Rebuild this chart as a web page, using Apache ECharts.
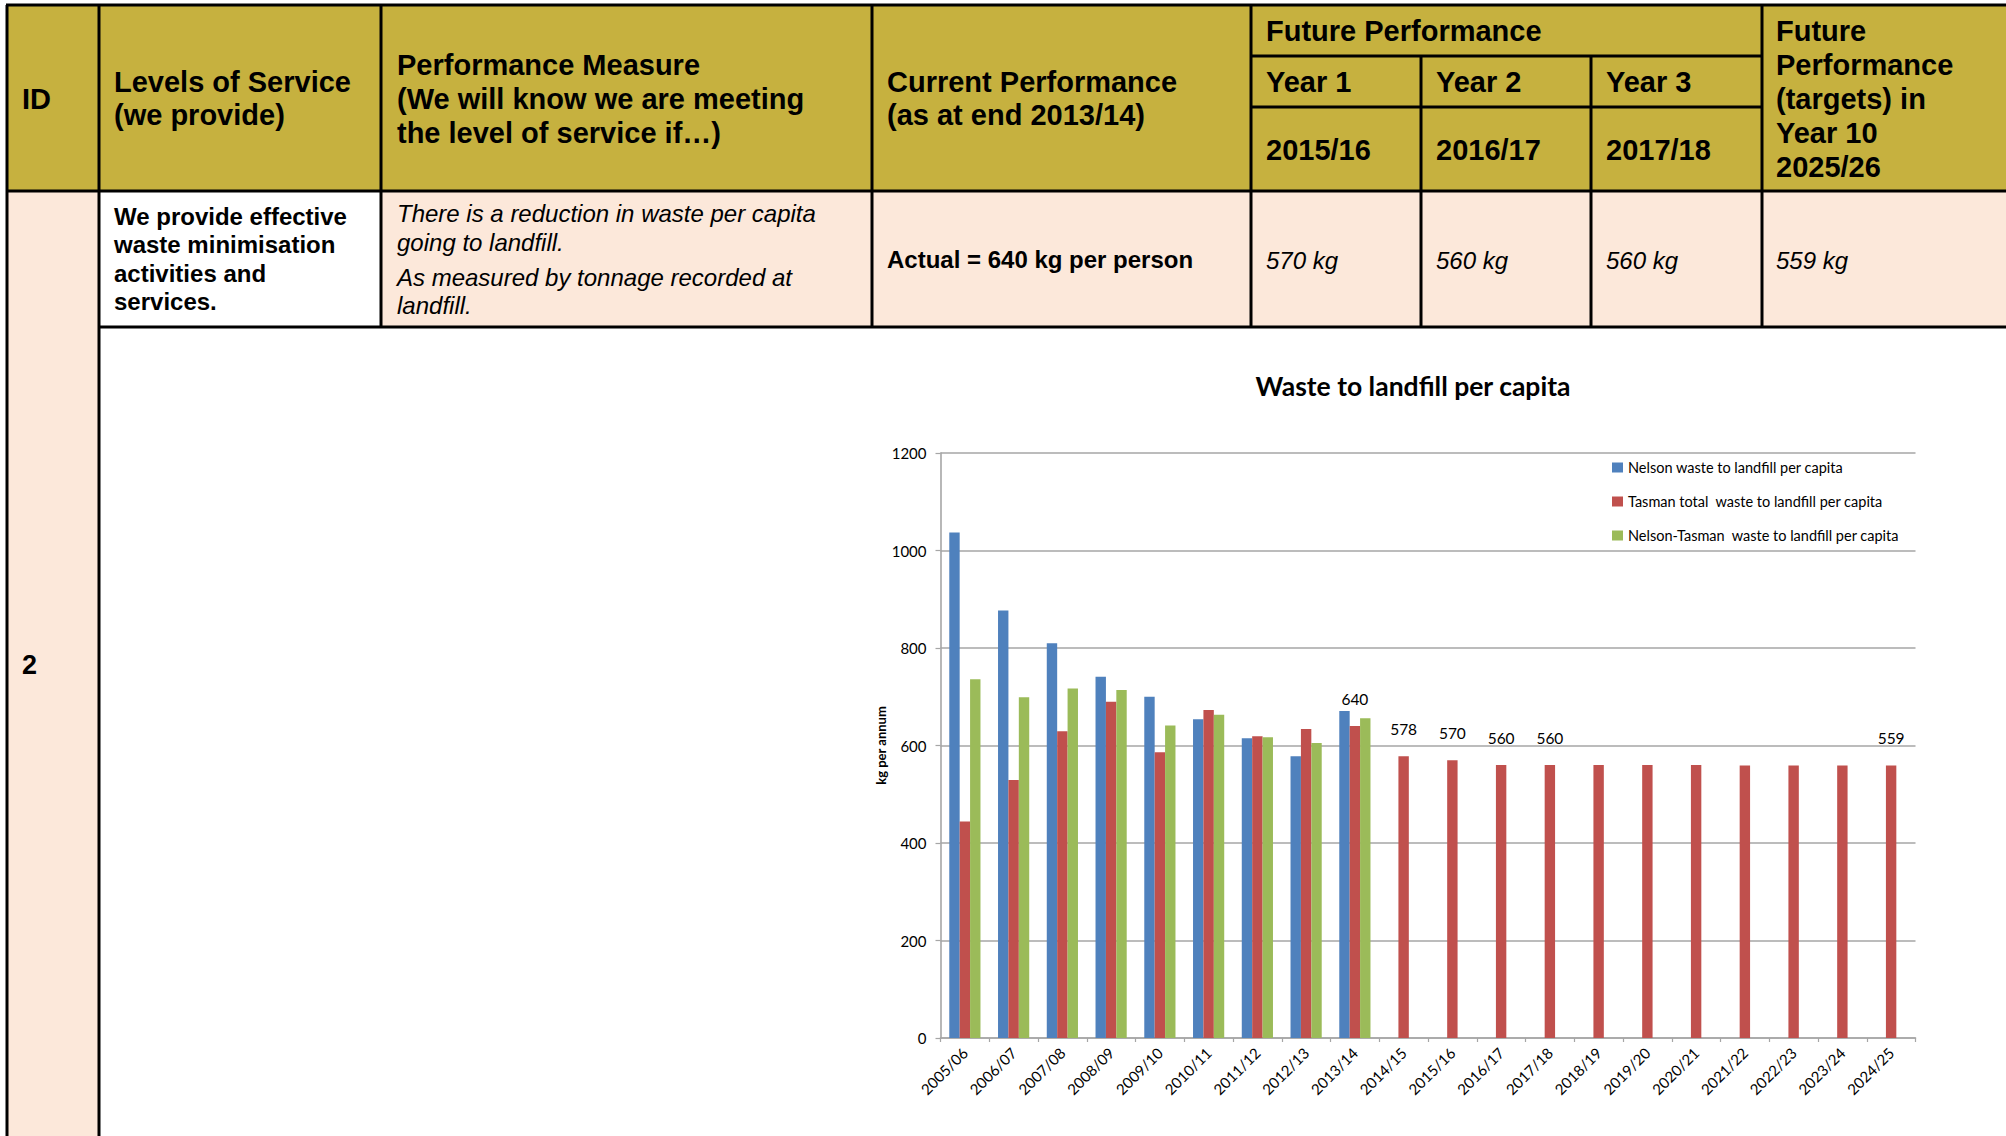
<!DOCTYPE html>
<html>
<head>
<meta charset="utf-8">
<title>Waste to landfill per capita</title>
<script src="https://cdn.jsdelivr.net/npm/echarts@6/dist/echarts.min.js"></script>
<style>
  html, body { margin: 0; padding: 0; background: #ffffff; }
  #chart { width: 2006px; height: 1136px; }
</style>
</head>
<body>
<div id="chart"></div>
<script>
// ---- chart data (kg per person per annum) ----
const categories = ['2005/06', '2006/07', '2007/08', '2008/09', '2009/10', '2010/11', '2011/12',
  '2012/13', '2013/14', '2014/15', '2015/16', '2016/17', '2017/18', '2018/19', '2019/20',
  '2020/21', '2021/22', '2022/23', '2023/24', '2024/25'];
const seriesNames = ['Nelson waste to landfill per capita', 'Tasman total  waste to landfill per capita',
  'Nelson-Tasman  waste to landfill per capita'];
const nelson = [1037, 877, 810, 741, 700, 654, 615, 578, 671];
const tasman = [444, 529, 629, 690, 586, 673, 619, 634, 640, 578, 570, 560, 560, 560, 560, 560, 559, 559, 559, 559];
const nelsonTasman = [736, 699, 717, 714, 641, 663, 617, 605, 656];
const labelledYears = ['2013/14', '2014/15', '2015/16', '2016/17', '2017/18', '2024/25'];
const yTicks = [0, 200, 400, 600, 800, 1000, 1200];

// ---- table text ----
const currentActual = 640;
const targetYearNames = ['Year 1', 'Year 2', 'Year 3'];
const targetYears = ['2015/16', '2016/17', '2017/18'];
const targetValues = [570, 560, 560];
const year10Target = 559;

const GOLD = '#C6B13F';
const PEACH = '#FCE8DA';
const INK = '#000000';
const ARIAL = '"Liberation Sans", Arial, sans-serif';
const BODY = 'Lato, "Open Sans", sans-serif';

function txt(str, x, y, o) {
  o = o || {};
  return {
    type: 'text', x: x, y: y, silent: true, z: 10,
    style: {
      text: str, fill: INK,
      fontFamily: ARIAL,
      fontSize: o.size || 29,
      fontWeight: o.weight || 'bold',
      fontStyle: o.italic ? 'italic' : 'normal',
      lineHeight: o.lh || 33,
      align: 'left', verticalAlign: 'middle'
    }
  };
}
function rect(x, y, w, h, fill) {
  return { type: 'rect', silent: true, z: 1, shape: { x: x, y: y, width: w, height: h }, style: { fill: fill } };
}
function line(x1, y1, x2, y2, w) {
  return { type: 'line', silent: true, z: 5, shape: { x1: x1, y1: y1, x2: x2, y2: y2 },
    style: { stroke: INK, lineWidth: w || 3 } };
}

// table column and row edges
const colX = [7, 99, 381, 872, 1251, 1421, 1591, 1762, 2010];
const rowY = [5, 56, 107, 191, 327, 1140];

const tableEls = [
  rect(7, 5, 2003, 186, GOLD),
  rect(7, 191, 2003, 136, PEACH),
  rect(99, 191, 282, 136, '#FFFFFF'),
  rect(7, 327, 92, 813, PEACH),
  // horizontal rules
  line(6, rowY[0], 2010, rowY[0], 3),
  line(colX[4], rowY[1], colX[7], rowY[1], 3),
  line(colX[4], rowY[2], colX[7], rowY[2], 3),
  line(6, rowY[3], 2010, rowY[3], 3),
  line(colX[1], rowY[4], 2010, rowY[4], 3),
  // vertical rules
  line(colX[0], rowY[0], colX[0], rowY[5], 3),
  line(colX[1], rowY[0], colX[1], rowY[5], 3),
  line(colX[2], rowY[0], colX[2], rowY[4], 3),
  line(colX[3], rowY[0], colX[3], rowY[4], 3),
  line(colX[4], rowY[0], colX[4], rowY[4], 3),
  line(colX[5], rowY[1], colX[5], rowY[4], 3),
  line(colX[6], rowY[1], colX[6], rowY[4], 3),
  line(colX[7], rowY[0], colX[7], rowY[4], 3),
  // header text
  txt('ID', 22, 99),
  txt('Levels of Service\n(we provide)', 114, 98.5),
  txt('Performance Measure\n(We will know we are meeting\nthe level of service if…)', 397, 99, { lh: 34 }),
  txt('Current Performance\n(as at end 2013/14)', 887, 98.5),
  txt('Future Performance', 1266, 31),
  txt('Future\nPerformance\n(targets) in\nYear 10\n2025/26', 1776, 99, { lh: 33.8 }),
  // body row text
  txt('2', 22, 665, { size: 27 }),
  txt('We provide effective\nwaste minimisation\nactivities and\nservices.', 114, 259, { size: 24, lh: 28.3 }),
  txt('There is a reduction in waste per capita', 397, 213, { size: 24, weight: 'normal', italic: true }),
  txt('going to landfill.', 397, 242, { size: 24, weight: 'normal', italic: true }),
  txt('As measured by tonnage recorded at', 397, 277, { size: 24, weight: 'normal', italic: true }),
  txt('landfill.', 397, 305, { size: 24, weight: 'normal', italic: true }),
  txt('Actual = ' + currentActual + ' kg per person', 887, 259, { size: 24 }),
  txt(year10Target + ' kg', 1776, 260, { size: 24, weight: 'normal', italic: true })
];
targetYearNames.forEach(function (name, i) {
  const x = colX[4] + 15 + i * 170;
  tableEls.push(txt(name, x, 82));
  tableEls.push(txt(targetYears[i], x, 150));
  tableEls.push(txt(targetValues[i] + ' kg', x, 260, { size: 24, weight: 'normal', italic: true }));
});

// chart title
tableEls.push({
  type: 'text', x: 1413, y: 386, silent: true, z: 10,
  style: { text: 'Waste to landfill per capita', fill: INK, fontFamily: BODY, fontSize: 26.5,
    fontWeight: 'bold', align: 'center', verticalAlign: 'middle' }
});

function withLabels(values) {
  return values.map(function (v, i) {
    if (labelledYears.indexOf(categories[i]) >= 0) {
      return { value: v, label: { show: true } };
    }
    return v;
  });
}

const pad = function (arr) {
  const out = arr.slice();
  while (out.length < categories.length) out.push(null);
  return out;
};

const barLabel = {
  show: false, position: 'top', distance: 19, formatter: '{c}',
  fontFamily: BODY, fontSize: 15.5, color: '#000'
};

const chart = echarts.init(document.getElementById('chart'), null, { renderer: 'svg' });
chart.setOption({
  animation: false,
  backgroundColor: '#FFFFFF',
  textStyle: { fontFamily: BODY },
  graphic: { elements: tableEls },
  legend: {
    orient: 'vertical', left: 1612, top: 460, padding: 0,
    itemWidth: 11, itemHeight: 10, itemGap: 19, icon: 'rect',
    data: seriesNames,
    textStyle: { fontFamily: BODY, fontSize: 14.5, color: '#000', lineHeight: 15 }
  },
  grid: { left: 940.5, right: 90.5, top: 453, bottom: 98, containLabel: false },
  xAxis: {
    type: 'category', data: categories, boundaryGap: true,
    axisLine: { lineStyle: { color: '#A6A6A6', width: 1.6 } },
    axisTick: { show: true, length: 4, alignWithLabel: false, lineStyle: { color: '#A6A6A6', width: 1.2 } },
    axisLabel: { rotate: 45, margin: 12, fontFamily: BODY, fontSize: 15, color: '#000', interval: 0 }
  },
  yAxis: {
    type: 'value', min: yTicks[0], max: yTicks[yTicks.length - 1], interval: 200,
    name: 'kg per annum', nameLocation: 'middle', nameRotate: 90, nameGap: 50,
    nameTextStyle: { fontFamily: BODY, fontSize: 13, fontWeight: 'bold', color: '#000' },
    axisLine: { show: true, lineStyle: { color: '#A6A6A6', width: 1.6 } },
    axisTick: { show: true, length: 5, lineStyle: { color: '#A6A6A6', width: 1.2 } },
    axisLabel: { margin: 14, fontFamily: BODY, fontSize: 15, color: '#000',
      formatter: function (v) { return String(v); } },
    splitLine: { show: true, lineStyle: { color: '#A6A6A6', width: 1.6 } }
  },
  series: [
    { name: seriesNames[0], type: 'bar', data: pad(nelson), barGap: '0%', barCategoryGap: '36%',
      itemStyle: { color: '#4F81BD' }, label: barLabel },
    { name: seriesNames[1], type: 'bar', data: withLabels(tasman), barGap: '0%', barCategoryGap: '36%',
      itemStyle: { color: '#C0504D' }, label: barLabel },
    { name: seriesNames[2], type: 'bar', data: pad(nelsonTasman), barGap: '0%', barCategoryGap: '36%',
      itemStyle: { color: '#9BBB59' }, label: barLabel }
  ]
});
</script>
</body>
</html>
